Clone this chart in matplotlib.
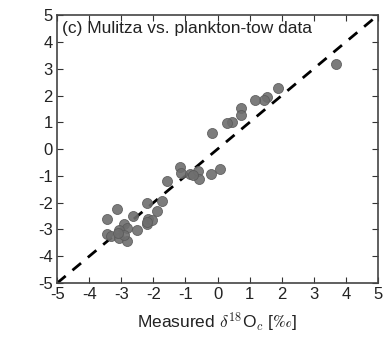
import numpy as np
import matplotlib
matplotlib.use('Agg')
import matplotlib.pyplot as plt

plt.rcParams['font.family'] = ['Liberation Sans', 'DejaVu Sans']
plt.rcParams['mathtext.fontset'] = 'cm'
plt.rcParams['axes.unicode_minus'] = False

# measured vs. modelled d18O
measured = [3.68, 1.89, 1.55, 1.46, 1.18, 0.74, 0.72, 0.46, 0.31, -0.18,
            -1.17, -1.15, -0.86, -0.60, -0.57, -0.75, -0.20, 0.08, -1.56,
            -2.21, -1.74, -1.90, -2.64, -3.14, -3.45, -2.16, -2.19, -2.05,
            -2.91, -2.83, -2.52, -3.06, -3.45, -3.33, -3.06, -2.83, -2.93,
            -3.09, -2.21]
modelled = [3.16, 2.30, 1.95, 1.83, 1.83, 1.52, 1.27, 1.00, 0.96, 0.62,
            -0.65, -0.88, -0.91, -0.81, -1.13, -0.97, -0.94, -0.75, -1.18,
            -2.00, -1.95, -2.31, -2.48, -2.25, -2.62, -2.59, -2.80, -2.65,
            -2.78, -2.96, -3.02, -3.02, -3.15, -3.25, -3.32, -3.42, -3.20,
            -3.12, -2.72]

ticks = np.arange(-5, 6)

fig = plt.figure(figsize=(3.86, 3.37), dpi=100)
ax = fig.add_axes([0.148, 0.160, 0.831, 0.795])

ax.plot([-5, 5], [-5, 5], color='black', lw=2, dashes=(4, 3.2), zorder=1)
ax.scatter(measured, modelled, s=52, color='#6e6e6e', edgecolors='#5a5a5a',
           linewidths=0.6, alpha=0.9, zorder=2)

ax.set_xlim(-5, 5)
ax.set_ylim(-5, 5)
ax.set_xticks(ticks)
ax.set_yticks(ticks)
ax.tick_params(direction='in', top=True, right=True, length=4, width=0.8,
               labelsize=12, colors='#333333', pad=3)
ax.tick_params(labelcolor='#222222')
for s in ax.spines.values():
    s.set_color('#444444')
    s.set_linewidth(1.2)

ax.text(-4.85, 4.8, '(c) Mulitza vs. plankton-tow data', fontsize=12.5,
        color='#222222', va='top', ha='left')
ax.set_xlabel(r'Measured $\delta^{18}$O$_c$ [$\perthousand$]', fontsize=12.5,
              color='#222222', labelpad=6)

plt.savefig('out.png', dpi=100)
